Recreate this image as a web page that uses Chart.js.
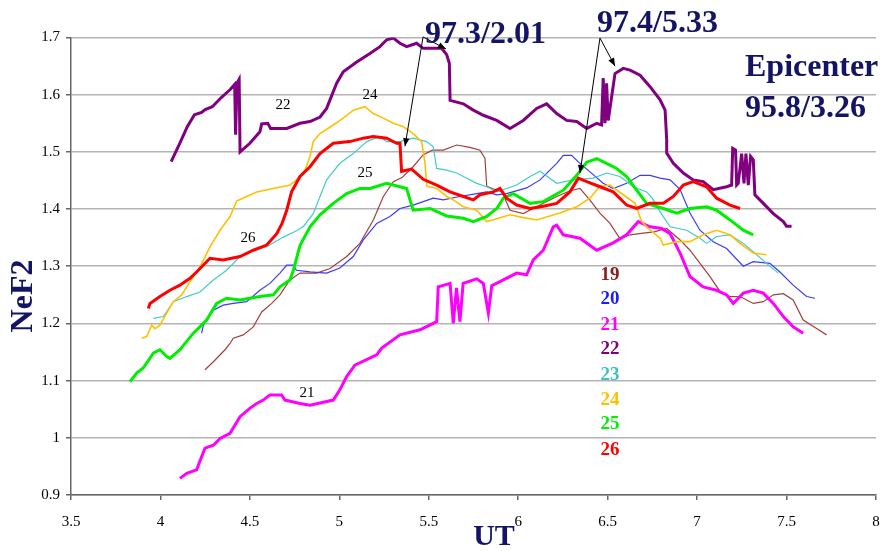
<!DOCTYPE html>
<html><head><meta charset="utf-8">
<script src="https://cdn.jsdelivr.net/npm/chart.js@4.4.1/dist/chart.umd.min.js"></script>
<style>html,body{margin:0;padding:0;background:#fff}</style>
</head><body>
<canvas id="c" width="883" height="551"></canvas>
<script>
// ---- tick labels ----
const xTicks = [3.5, 4, 4.5, 5, 5.5, 6, 6.5, 7, 7.5, 8];
const yTicks = [0.9, 1, 1.1, 1.2, 1.3, 1.4, 1.5, 1.6, 1.7];

// ---- series: [UT, NeF2] ----
const day19 = [[4.249,1.119],[4.296,1.133],[4.361,1.154],[4.389,1.165],[4.407,1.174],[4.463,1.180],[4.519,1.194],[4.566,1.220],[4.622,1.235],[4.668,1.250],[4.724,1.276],[4.780,1.288],[4.873,1.288],[4.948,1.296],[5.041,1.317],[5.115,1.340],[5.190,1.381],[5.246,1.422],[5.302,1.448],[5.350,1.455],[5.413,1.474],[5.469,1.495],[5.520,1.503],[5.581,1.503],[5.656,1.512],[5.730,1.508],[5.786,1.503],[5.814,1.489],[5.824,1.440],[5.880,1.433],[5.910,1.430],[5.954,1.398],[6.028,1.392],[6.103,1.404],[6.215,1.422],[6.290,1.432],[6.345,1.436],[6.400,1.416],[6.457,1.393],[6.513,1.375],[6.569,1.348],[6.625,1.355],[6.699,1.358],[6.760,1.360],[6.830,1.366],[6.905,1.346],[6.960,1.328],[7.016,1.305],[7.072,1.282],[7.128,1.256],[7.184,1.247],[7.240,1.247],[7.314,1.235],[7.370,1.238],[7.426,1.250],[7.482,1.252],[7.537,1.241],[7.593,1.206],[7.668,1.191],[7.724,1.180]];
const day20 = [[4.230,1.183],[4.240,1.197],[4.296,1.223],[4.351,1.232],[4.407,1.235],[4.482,1.238],[4.556,1.258],[4.612,1.270],[4.668,1.288],[4.706,1.302],[4.743,1.302],[4.760,1.293],[4.836,1.290],[4.929,1.288],[5.003,1.297],[5.078,1.317],[5.134,1.346],[5.209,1.375],[5.283,1.387],[5.339,1.401],[5.413,1.407],[5.469,1.413],[5.525,1.419],[5.581,1.416],[5.674,1.422],[5.768,1.427],[5.824,1.430],[5.880,1.425],[5.935,1.427],[6.047,1.437],[6.122,1.451],[6.215,1.480],[6.252,1.494],[6.298,1.494],[6.345,1.480],[6.401,1.465],[6.475,1.445],[6.531,1.436],[6.606,1.445],[6.681,1.459],[6.737,1.459],[6.793,1.454],[6.849,1.451],[6.905,1.434],[6.960,1.393],[7.016,1.363],[7.090,1.343],[7.165,1.331],[7.258,1.300],[7.314,1.308],[7.407,1.305],[7.463,1.290],[7.537,1.267],[7.612,1.247],[7.659,1.244]];
const day21 = [[4.109,0.929],[4.147,0.938],[4.202,0.944],[4.249,0.982],[4.296,0.987],[4.333,0.999],[4.389,1.008],[4.445,1.037],[4.501,1.052],[4.538,1.060],[4.575,1.066],[4.612,1.075],[4.677,1.075],[4.696,1.066],[4.780,1.060],[4.836,1.057],[4.966,1.066],[5.003,1.084],[5.041,1.107],[5.087,1.127],[5.209,1.145],[5.237,1.157],[5.339,1.180],[5.451,1.189],[5.544,1.203],[5.553,1.264],[5.619,1.270],[5.637,1.200],[5.655,1.262],[5.674,1.203],[5.692,1.270],[5.768,1.278],[5.805,1.270],[5.833,1.218],[5.852,1.266],[5.898,1.273],[5.991,1.288],[6.047,1.285],[6.084,1.311],[6.140,1.328],[6.196,1.369],[6.215,1.372],[6.252,1.355],[6.345,1.349],[6.439,1.328],[6.531,1.341],[6.606,1.355],[6.671,1.378],[6.737,1.369],[6.802,1.366],[6.849,1.357],[6.905,1.323],[6.960,1.282],[7.034,1.264],[7.109,1.258],[7.165,1.250],[7.202,1.235],[7.258,1.253],[7.314,1.258],[7.370,1.253],[7.426,1.235],[7.482,1.212],[7.537,1.194],[7.593,1.183]];
const day22 = [[4.060,1.483],[4.110,1.516],[4.150,1.544],[4.190,1.565],[4.230,1.569],[4.250,1.574],[4.290,1.579],[4.340,1.595],[4.390,1.609],[4.415,1.618],[4.420,1.530],[4.428,1.620],[4.440,1.627],[4.445,1.500],[4.500,1.515],[4.556,1.535],[4.566,1.549],[4.600,1.550],[4.616,1.541],[4.706,1.541],[4.780,1.550],[4.836,1.553],[4.892,1.561],[4.929,1.576],[4.985,1.620],[5.022,1.640],[5.097,1.657],[5.171,1.672],[5.227,1.684],[5.265,1.696],[5.302,1.699],[5.339,1.690],[5.376,1.684],[5.432,1.690],[5.469,1.681],[5.525,1.681],[5.572,1.681],[5.600,1.670],[5.615,1.655],[5.619,1.590],[5.656,1.587],[5.693,1.584],[5.749,1.573],[5.805,1.564],[5.880,1.555],[5.954,1.541],[6.028,1.555],[6.103,1.576],[6.159,1.584],[6.215,1.567],[6.271,1.555],[6.327,1.553],[6.383,1.541],[6.439,1.550],[6.466,1.547],[6.475,1.629],[6.485,1.550],[6.494,1.620],[6.503,1.555],[6.541,1.637],[6.587,1.646],[6.625,1.643],[6.681,1.634],[6.737,1.614],[6.793,1.591],[6.821,1.573],[6.830,1.521],[6.830,1.498],[6.867,1.480],[6.923,1.463],[6.978,1.451],[7.034,1.448],[7.090,1.434],[7.165,1.439],[7.193,1.442],[7.199,1.506],[7.215,1.503],[7.221,1.442],[7.230,1.445],[7.249,1.497],[7.262,1.445],[7.273,1.497],[7.286,1.442],[7.299,1.492],[7.314,1.486],[7.323,1.425],[7.370,1.410],[7.426,1.392],[7.482,1.378],[7.500,1.370],[7.528,1.370]];
const day23 = [[3.960,1.209],[4.016,1.212],[4.072,1.238],[4.147,1.247],[4.221,1.255],[4.296,1.276],[4.370,1.293],[4.445,1.317],[4.519,1.328],[4.594,1.334],[4.687,1.351],[4.761,1.362],[4.800,1.370],[4.854,1.392],[4.929,1.451],[5.003,1.480],[5.078,1.497],[5.153,1.518],[5.227,1.527],[5.265,1.518],[5.339,1.518],[5.413,1.524],[5.488,1.518],[5.525,1.509],[5.544,1.471],[5.600,1.468],[5.656,1.463],[5.712,1.454],[5.768,1.445],[5.824,1.439],[5.880,1.430],[5.935,1.436],[5.991,1.442],[6.066,1.457],[6.122,1.466],[6.215,1.445],[6.308,1.451],[6.419,1.454],[6.494,1.463],[6.569,1.457],[6.643,1.439],[6.718,1.430],[6.749,1.419],[6.793,1.395],[6.849,1.369],[6.942,1.363],[7.016,1.349],[7.053,1.340],[7.109,1.352],[7.184,1.355],[7.258,1.340],[7.333,1.320],[7.388,1.305],[7.454,1.288]];
const day24 = [[3.895,1.174],[3.923,1.177],[3.951,1.197],[3.970,1.191],[3.997,1.197],[4.035,1.218],[4.072,1.238],[4.119,1.250],[4.165,1.273],[4.221,1.299],[4.277,1.334],[4.333,1.363],[4.389,1.387],[4.426,1.414],[4.482,1.422],[4.538,1.430],[4.631,1.436],[4.724,1.442],[4.761,1.451],[4.808,1.468],[4.836,1.492],[4.854,1.518],[4.892,1.532],[4.966,1.547],[5.022,1.559],[5.078,1.573],[5.143,1.579],[5.190,1.567],[5.246,1.559],[5.302,1.550],[5.358,1.544],[5.413,1.532],[5.460,1.518],[5.479,1.480],[5.489,1.440],[5.544,1.436],[5.600,1.422],[5.637,1.416],[5.693,1.404],[5.768,1.398],[5.824,1.378],[5.870,1.382],[5.954,1.390],[6.030,1.385],[6.103,1.381],[6.233,1.393],[6.327,1.404],[6.401,1.419],[6.457,1.440],[6.513,1.442],[6.587,1.425],[6.653,1.410],[6.690,1.378],[6.737,1.363],[6.793,1.349],[6.811,1.337],[6.886,1.343],[6.960,1.343],[7.034,1.355],[7.109,1.363],[7.184,1.355],[7.240,1.340],[7.314,1.323],[7.388,1.320]];
const day25 = [[3.830,1.098],[3.867,1.113],[3.904,1.122],[3.960,1.148],[3.997,1.154],[4.035,1.142],[4.053,1.139],[4.109,1.154],[4.184,1.183],[4.258,1.206],[4.314,1.235],[4.370,1.244],[4.445,1.241],[4.556,1.247],[4.631,1.250],[4.668,1.264],[4.724,1.276],[4.743,1.293],[4.780,1.336],[4.836,1.369],[4.892,1.390],[4.966,1.410],[5.041,1.427],[5.115,1.436],[5.171,1.436],[5.265,1.445],[5.339,1.439],[5.376,1.436],[5.395,1.416],[5.413,1.398],[5.507,1.401],[5.600,1.388],[5.693,1.384],[5.749,1.378],[5.824,1.387],[5.880,1.401],[5.917,1.419],[5.972,1.427],[6.066,1.410],[6.140,1.413],[6.252,1.433],[6.327,1.459],[6.383,1.482],[6.439,1.488],[6.494,1.480],[6.550,1.471],[6.606,1.457],[6.662,1.433],[6.718,1.410],[6.811,1.401],[6.886,1.393],[6.960,1.401],[7.053,1.404],[7.109,1.398],[7.184,1.381],[7.258,1.363],[7.314,1.355]];
const day26 = [[3.932,1.226],[3.942,1.235],[3.997,1.247],[4.053,1.258],[4.109,1.267],[4.165,1.279],[4.202,1.290],[4.277,1.314],[4.351,1.311],[4.445,1.317],[4.519,1.328],[4.594,1.337],[4.650,1.357],[4.680,1.375],[4.706,1.398],[4.733,1.430],[4.780,1.457],[4.836,1.474],[4.892,1.497],[4.966,1.515],[5.059,1.518],[5.134,1.524],[5.190,1.527],[5.265,1.524],[5.320,1.515],[5.339,1.515],[5.348,1.466],[5.404,1.470],[5.469,1.452],[5.544,1.442],[5.619,1.430],[5.693,1.422],[5.749,1.416],[5.786,1.425],[5.861,1.430],[5.898,1.436],[5.935,1.419],[5.991,1.407],[6.066,1.401],[6.140,1.405],[6.215,1.410],[6.289,1.430],[6.336,1.454],[6.383,1.448],[6.457,1.439],[6.531,1.430],[6.606,1.407],[6.662,1.401],[6.737,1.410],[6.811,1.410],[6.867,1.422],[6.923,1.442],[6.978,1.448],[7.053,1.439],[7.109,1.419],[7.184,1.407],[7.240,1.401]];

const dayNames = ['19','20','21','22','23','24','25','26'];
const dayData = [day19, day20, day21, day22, day23, day24, day25, day26];

// ---- styles ----
const lineColors = ['#a0413c','#3a3aff','#ff00ff','#800080','#40cccc','#ffc000','#00ee00','#ff0000'];
const textColors = ['#8b2020','#1a1aff','#ff00ff','#800080','#40c0c0','#ffc000','#00ee00','#ff0000'];
const lineWidths = [1.2, 1.2, 3, 3, 1.2, 1.6, 3, 3];
const NAVY = '#141464';
const SERIF = '"Liberation Serif","Times New Roman",serif';

// annotation arrows in data coordinates: [fromUT, fromNe, toUT, toNe]
const arrows = [
  [5.468, 1.701, 5.367, 1.510],
  [5.468, 1.701, 5.596, 1.680],
  [6.457, 1.699, 6.345, 1.463],
  [6.457, 1.699, 6.541, 1.650]
];

const overlay = {
  id: 'overlay',
  afterDraw(chart) {
    const ctx = chart.ctx, xs = chart.scales.x, ys = chart.scales.y;
    ctx.save();
    ctx.strokeStyle = '#000'; ctx.fillStyle = '#000'; ctx.lineWidth = 1;
    arrows.forEach(a => {
      const x0 = xs.getPixelForValue(a[0]), y0 = ys.getPixelForValue(a[1]);
      const x1 = xs.getPixelForValue(a[2]), y1 = ys.getPixelForValue(a[3]);
      ctx.beginPath(); ctx.moveTo(x0, y0); ctx.lineTo(x1, y1); ctx.stroke();
      const ang = Math.atan2(y1 - y0, x1 - x0), L = 8, W = 3.2;
      ctx.beginPath();
      ctx.moveTo(x1, y1);
      ctx.lineTo(x1 - L*Math.cos(ang) + W*Math.sin(ang), y1 - L*Math.sin(ang) - W*Math.cos(ang));
      ctx.lineTo(x1 - L*Math.cos(ang) - W*Math.sin(ang), y1 - L*Math.sin(ang) + W*Math.cos(ang));
      ctx.closePath(); ctx.fill();
    });
    ctx.fillStyle = NAVY;
    ctx.font = 'bold 32px ' + SERIF;
    ctx.textAlign = 'left'; ctx.textBaseline = 'alphabetic';
    ctx.fillText('97.3/2.01', 425, 43);
    ctx.fillText('97.4/5.33', 597, 32);
    ctx.fillText('Epicenter', 745, 76);
    ctx.fillText('95.8/3.26', 745, 117);
    ctx.textAlign = 'center'; ctx.textBaseline = 'middle';
    ctx.save();
    ctx.translate(24, 296); ctx.rotate(-Math.PI/2);
    ctx.fillText('NeF2', 0, 0);
    ctx.restore();
    ctx.font = 'bold 30px ' + SERIF;
    ctx.fillText('UT', 494, 537);
    ctx.font = 'bold 19px ' + SERIF;
    const listY = [275, 299, 325, 349, 375, 400, 424, 450];
    dayNames.forEach((n, i) => { ctx.fillStyle = textColors[i]; ctx.fillText(n, 610, listY[i]); });
    ctx.fillStyle = '#000';
    ctx.font = '15px ' + SERIF;
    [['22',283,105],['24',370,95],['25',365,173],['26',248,238],['21',307,393]].forEach(t => ctx.fillText(t[0], t[1], t[2]));
    ctx.restore();
  }
};

new Chart(document.getElementById('c'), {
  type: 'scatter',
  data: {
    datasets: dayData.map((d, i) => ({
      label: dayNames[i],
      data: d.map(p => ({x: p[0], y: p[1]})),
      showLine: true,
      borderColor: lineColors[i],
      backgroundColor: lineColors[i],
      borderWidth: lineWidths[i],
      pointRadius: 0,
      tension: 0,
      fill: false,
      order: 8 - i
    }))
  },
  options: {
    responsive: false,
    animation: false,
    devicePixelRatio: 1,
    layout: { padding: { left: 0, right: 7, top: 37.5, bottom: 0 } },
    plugins: { legend: { display: false }, tooltip: { enabled: false } },
    scales: {
      x: {
        type: 'linear', min: 3.5, max: 8,
        afterBuildTicks: s => { s.ticks = xTicks.map(v => ({ value: v })); },
        afterFit: s => { s.height = 56; s.paddingRight = 0; s.paddingLeft = 0; },
        ticks: { callback: v => String(Math.round(v * 10) / 10), color: '#000', font: { family: SERIF, size: 15 }, padding: 13, maxRotation: 0, autoSkip: false },
        grid: { drawOnChartArea: false, drawTicks: true, tickLength: 5, color: '#666', lineWidth: 1.5 },
        border: { display: true, color: '#666', width: 1.5 }
      },
      y: {
        type: 'linear', min: 0.9, max: 1.7,
        afterBuildTicks: s => { s.ticks = yTicks.map(v => ({ value: v })); },
        afterFit: s => { s.width = 71; },
        ticks: { callback: v => String(Math.round(v * 10) / 10), color: '#000', font: { family: SERIF, size: 15 }, padding: 6, autoSkip: false },
        grid: { drawOnChartArea: true, drawTicks: true, tickLength: 5, color: '#b4b4b4', tickColor: '#666', lineWidth: 1.5 },
        border: { display: true, color: '#666', width: 1.5 }
      }
    }
  },
  plugins: [overlay]
});
</script>
</body></html>
